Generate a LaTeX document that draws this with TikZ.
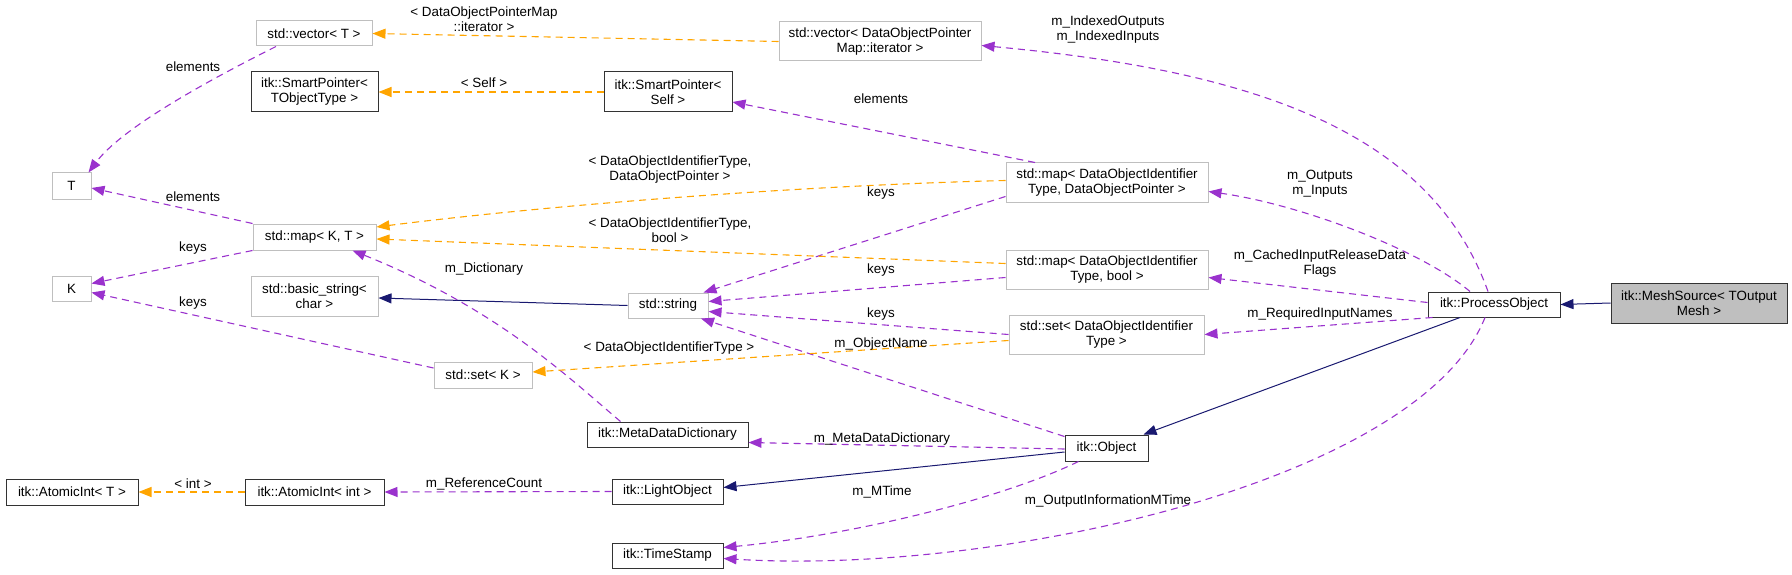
\documentclass[tikz,border=0pt]{standalone}
\usepackage{fontspec}
\setmainfont{Liberation Sans}
\usetikzlibrary{arrows.meta}
\definecolor{edgenavy}{HTML}{191970}
\definecolor{edgepurple}{HTML}{9A32CD}
\definecolor{edgeorange}{HTML}{FFA500}
\definecolor{boxgray}{HTML}{BFBFBF}
\tikzset{
  every node/.style={font=\fontsize{13.4}{15}\selectfont},
  gbox/.style={draw=boxgray, line width=1pt, fill=white, align=center, inner sep=1pt},
  kbox/.style={draw=black!80, line width=1pt, fill=white, align=center, inner sep=1pt},
  lbl/.style={align=center, inner sep=0pt},
  tip/.style={-{Triangle[length=13pt,width=10pt]}},
  inherit/.style={tip, draw=edgenavy, fill=edgenavy, line width=1pt},
  usage/.style={tip, draw=edgepurple, fill=edgepurple, line width=1.1pt, dash pattern=on 7pt off 5pt},
  templ/.style={tip, draw=edgeorange, fill=edgeorange, line width=1.1pt, dash pattern=on 7pt off 5pt}
}
\begin{document}
\begin{tikzpicture}[x=1pt,y=-1pt]
      \useasboundingbox (0,0) rectangle (1792,575);
      \node[gbox, minimum width=39pt, minimum height=26pt] (tT) at (71.5,186) {T};
      \node[gbox, minimum width=39pt, minimum height=25pt] (tK) at (71.5,288.5) {K};
      \node[gbox, minimum width=116pt, minimum height=25pt] (vecT) at (314,33.5) {std::vector< T >};
      \node[kbox, minimum width=127pt, minimum height=40pt] (spT) at (314.5,92) {itk::SmartPointer<\\ TObjectType >};
      \node[gbox, minimum width=123pt, minimum height=26pt] (mapKT) at (314.5,237) {std::map< K, T >};
      \node[gbox, minimum width=127pt, minimum height=40pt] (bstr) at (314.5,296) {std::basic\_string<\\char >};
      \node[gbox, minimum width=98pt, minimum height=26pt] (setK) at (483,375) {std::set< K >};
      \node[kbox, minimum width=132pt, minimum height=26pt] (aiT) at (72,492) {itk::AtomicInt< T >};
      \node[kbox, minimum width=139pt, minimum height=26pt] (aiInt) at (314.5,492) {itk::AtomicInt< int >};
      \node[kbox, minimum width=128pt, minimum height=40pt] (spSelf) at (668,92) {itk::SmartPointer<\\Self >};
      \node[gbox, minimum width=80pt, minimum height=25pt] (str) at (668,305.5) {std::string};
      \node[kbox, minimum width=161pt, minimum height=25pt] (mdd) at (667.5,434.5) {itk::MetaDataDictionary};
      \node[kbox, minimum width=111pt, minimum height=25pt] (lobj) at (667.5,491.5) {itk::LightObject};
      \node[kbox, minimum width=111pt, minimum height=25pt] (tstamp) at (667.5,555.5) {itk::TimeStamp};
      \node[gbox, minimum width=202pt, minimum height=39pt] (vecDOP) at (880,41.5) {std::vector< DataObjectPointer\\Map::iterator >};
      \node[gbox, minimum width=202pt, minimum height=39pt] (mapDOP) at (1107,182.5) {std::map< DataObjectIdentifier\\Type, DataObjectPointer >};
      \node[gbox, minimum width=202pt, minimum height=39pt] (mapBool) at (1107,269.5) {std::map< DataObjectIdentifier\\Type, bool >};
      \node[gbox, minimum width=195pt, minimum height=39pt] (setDOI) at (1106.5,334.5) {std::set< DataObjectIdentifier\\Type >};
      \node[kbox, minimum width=83pt, minimum height=26pt] (obj) at (1106.5,448) {itk::Object};
      \node[kbox, minimum width=132pt, minimum height=25pt] (proc) at (1494,304.5) {itk::ProcessObject};
      \node[kbox, fill=boxgray, minimum width=176pt, minimum height=40pt] (mesh) at (1699,303) {itk::MeshSource< TOutput\\Mesh >};
      \begin{scope}[inherit]
        \draw (mesh.west) to (proc.east);
        \draw ([xshift=-34pt]proc.south) to ([xshift=-5pt]obj.north east);
        \draw ([yshift=-4pt]obj.west) to ([yshift=4pt]lobj.east);
        \draw (str.west) to ([yshift=-2pt]bstr.east);
      \end{scope}
      \begin{scope}[usage]
        \draw ([xshift=-38pt]vecT.south) .. controls +(-76,38) and +(32,-43) .. ([xshift=-3pt]tT.north east);
        \draw (mapKT.north west) to ([yshift=-2pt]tT.east);
        \draw (mapKT.south west) to ([yshift=5pt]tK.east);
        \draw ([yshift=7pt]setK.west) to ([yshift=-4pt]tK.east);
        \draw ([xshift=-47pt]mdd.north) .. controls +(-50,-42) and +(147,59) .. ([xshift=38pt]mapKT.south);
        \draw ([xshift=-72pt]mapDOP.north) to ([yshift=-10pt]spSelf.east);
        \draw ([yshift=-14pt]mapDOP.west) to ([xshift=-5pt]str.north east);
        \draw ([yshift=-8pt]mapBool.west) to ([yshift=4pt]str.east);
        \draw (setDOI.west) to ([yshift=-6pt]str.east);
        \draw ([yshift=-2pt]obj.north west) to ([xshift=33pt]str.south);
        \draw ([yshift=-1pt]obj.west) to ([yshift=-8pt]mdd.east);
        \draw ([xshift=-28pt]obj.south) .. controls +(-78,38) and +(127,-12) .. ([yshift=8pt]tstamp.east);
        \draw ([xshift=-9pt]proc.south) .. controls +(-65,163) and +(277,17) .. ([yshift=-3pt]tstamp.east);
        \draw (lobj.west) to (aiInt.east);
        \draw ([xshift=-6pt]proc.north) .. controls +(-58,-162) and +(269,25) .. ([yshift=-4pt]vecDOP.east);
        \draw ([xshift=-24pt]proc.north) .. controls +(-50,-42) and +(92,13) .. ([yshift=-9pt]mapDOP.east);
        \draw ([yshift=2pt]proc.west) to ([yshift=-8pt]mapBool.east);
        \draw ([xshift=5pt]proc.south west) to (setDOI.east);
      \end{scope}
      \begin{scope}[templ]
        \draw (vecDOP.west) to (vecT.east);
        \draw (spSelf.west) to (spT.east);
        \draw ([yshift=2pt]mapDOP.west) .. controls +(-206,5) and +(174,-22) .. ([yshift=10pt]mapKT.east);
        \draw ([yshift=6pt]mapBool.west) to ([yshift=-2pt]mapKT.east);
        \draw ([yshift=-6pt]setDOI.west) to ([yshift=3pt]setK.east);
        \draw (aiInt.west) to (aiT.east);
      \end{scope}
      \node[lbl] (l1) at (193,67) {elements};
      \node[lbl] (l2) at (193,197) {elements};
      \node[lbl] (l3) at (193,248) {keys};
      \node[lbl] (l4) at (193,303) {keys};
      \node[lbl] (l5) at (193,484) {< int >};
      \node[lbl] (l6) at (484,19.5) {< DataObjectPointerMap\\::iterator >};
      \node[lbl] (l7) at (484,83) {< Self >};
      \node[lbl] (l8) at (484,269) {m\_Dictionary};
      \node[lbl] (l9) at (484,484) {m\_ReferenceCount};
      \node[lbl] (l10) at (670,170) {< DataObjectIdentifierType,\\DataObjectPointer >};
      \node[lbl] (l11) at (670,230) {< DataObjectIdentifierType,\\bool >};
      \node[lbl] (l12) at (669,348) {< DataObjectIdentifierType >};
      \node[lbl] (l13) at (881,99) {elements};
      \node[lbl] (l14) at (881,193) {keys};
      \node[lbl] (l15) at (881,270) {keys};
      \node[lbl] (l16) at (881,314) {keys};
      \node[lbl] (l17) at (881,344) {m\_ObjectName};
      \node[lbl] (l18) at (882,439) {m\_MetaDataDictionary};
      \node[lbl] (l19) at (882,492) {m\_MTime};
      \node[lbl] (l20) at (1108,29.5) {m\_IndexedOutputs\\m\_IndexedInputs};
      \node[lbl] (l21) at (1108,501) {m\_OutputInformationMTime};
      \node[lbl] (l22) at (1320,183.5) {m\_Outputs\\m\_Inputs};
      \node[lbl] (l23) at (1320,264) {m\_CachedInputReleaseData\\Flags};
      \node[lbl] (l24) at (1320,314) {m\_RequiredInputNames};
    \end{tikzpicture}
\end{document}
